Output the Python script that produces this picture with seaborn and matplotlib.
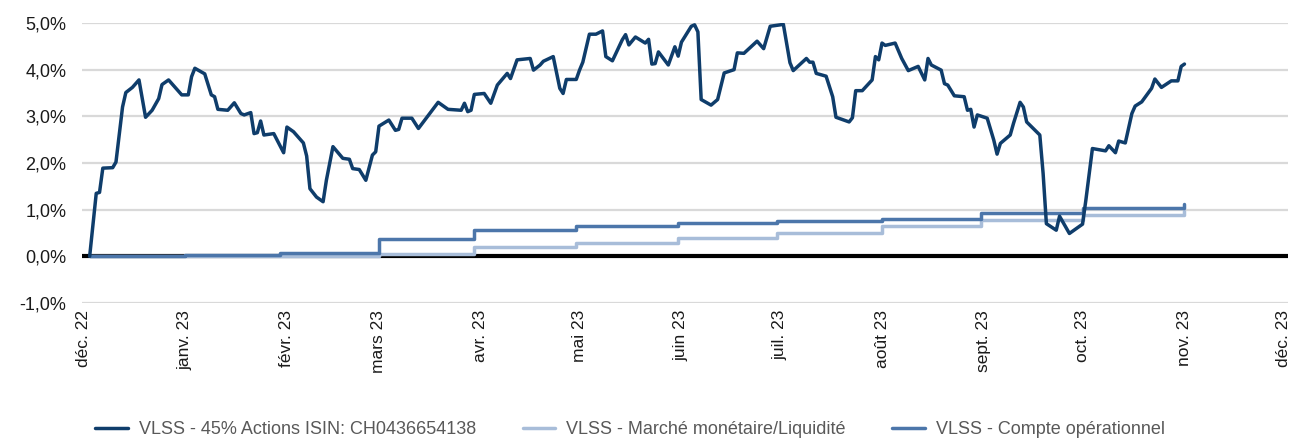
import pandas as pd
import numpy as np
import seaborn as sns
import matplotlib.pyplot as plt
import matplotlib.dates as mdates
from matplotlib.ticker import FuncFormatter, MultipleLocator

# performance cumulée en %
actions_dates = [
    "2022-12-03", "2022-12-05", "2022-12-06", "2022-12-07", "2022-12-10", "2022-12-11",
    "2022-12-13", "2022-12-14", "2022-12-16", "2022-12-18", "2022-12-20", "2022-12-22",
    "2022-12-24", "2022-12-25", "2022-12-27", "2022-12-31", "2023-01-02", "2023-01-03",
    "2023-01-04", "2023-01-07", "2023-01-09", "2023-01-10", "2023-01-11", "2023-01-14",
    "2023-01-16", "2023-01-18", "2023-01-19", "2023-01-21", "2023-01-22", "2023-01-23",
    "2023-01-24", "2023-01-25", "2023-01-28", "2023-01-31", "2023-02-01", "2023-02-03",
    "2023-02-06", "2023-02-07", "2023-02-08", "2023-02-10", "2023-02-12", "2023-02-13",
    "2023-02-15", "2023-02-18", "2023-02-20", "2023-02-21", "2023-02-23", "2023-02-25",
    "2023-02-27", "2023-02-28", "2023-03-01", "2023-03-04", "2023-03-06", "2023-03-07",
    "2023-03-08", "2023-03-11", "2023-03-13", "2023-03-19", "2023-03-22", "2023-03-26",
    "2023-03-27", "2023-03-28", "2023-03-29", "2023-03-30", "2023-04-02", "2023-04-04",
    "2023-04-06", "2023-04-09", "2023-04-10", "2023-04-12", "2023-04-16", "2023-04-17",
    "2023-04-19", "2023-04-20", "2023-04-23", "2023-04-25", "2023-04-26", "2023-04-27",
    "2023-04-30", "2023-05-01", "2023-05-02", "2023-05-04", "2023-05-06", "2023-05-08",
    "2023-05-09", "2023-05-11", "2023-05-14", "2023-05-15", "2023-05-16", "2023-05-18",
    "2023-05-21", "2023-05-22", "2023-05-23", "2023-05-24", "2023-05-25", "2023-05-28",
    "2023-05-30", "2023-05-31", "2023-06-01", "2023-06-04", "2023-06-05", "2023-06-06",
    "2023-06-07", "2023-06-10", "2023-06-12", "2023-06-14", "2023-06-17", "2023-06-18",
    "2023-06-20", "2023-06-24", "2023-06-26", "2023-06-28", "2023-07-02", "2023-07-04",
    "2023-07-05", "2023-07-09", "2023-07-10", "2023-07-11", "2023-07-12", "2023-07-15",
    "2023-07-17", "2023-07-18", "2023-07-22", "2023-07-23", "2023-07-24", "2023-07-26",
    "2023-07-29", "2023-07-30", "2023-07-31", "2023-08-01", "2023-08-02", "2023-08-05",
    "2023-08-07", "2023-08-09", "2023-08-12", "2023-08-14", "2023-08-15", "2023-08-16",
    "2023-08-19", "2023-08-20", "2023-08-21", "2023-08-23", "2023-08-26", "2023-08-27",
    "2023-08-28", "2023-08-29", "2023-08-30", "2023-09-02", "2023-09-04", "2023-09-05",
    "2023-09-06", "2023-09-09", "2023-09-10", "2023-09-12", "2023-09-13", "2023-09-14",
    "2023-09-16", "2023-09-18", "2023-09-19", "2023-09-20", "2023-09-23", "2023-09-24",
    "2023-09-27", "2023-10-01", "2023-10-02", "2023-10-04", "2023-10-08", "2023-10-09",
    "2023-10-11", "2023-10-12", "2023-10-14", "2023-10-16", "2023-10-17", "2023-10-19",
    "2023-10-22", "2023-10-23", "2023-10-25", "2023-10-28", "2023-10-30", "2023-10-31",
    "2023-11-01",
]
actions_values = [
    0.00, 1.35, 1.37, 1.89, 1.90, 2.02,
    3.20, 3.51, 3.62, 3.78, 2.98, 3.13,
    3.38, 3.68, 3.78, 3.46, 3.46, 3.85,
    4.03, 3.91, 3.46, 3.42, 3.15, 3.13,
    3.29, 3.06, 3.03, 3.08, 2.63, 2.65,
    2.90, 2.60, 2.63, 2.22, 2.77, 2.67,
    2.43, 2.15, 1.45, 1.27, 1.17, 1.63,
    2.35, 2.10, 2.08, 1.88, 1.86, 1.63,
    2.17, 2.24, 2.79, 2.92, 2.70, 2.72,
    2.96, 2.96, 2.74, 3.30, 3.15, 3.13,
    3.28, 3.10, 3.13, 3.47, 3.49, 3.28,
    3.67, 3.92, 3.81, 4.21, 4.24, 3.99,
    4.10, 4.18, 4.28, 3.60, 3.49, 3.79,
    3.79, 3.99, 4.16, 4.76, 4.76, 4.83,
    4.28, 4.19, 4.64, 4.75, 4.53, 4.70,
    4.57, 4.65, 4.12, 4.13, 4.38, 4.10,
    4.49, 4.29, 4.59, 4.93, 4.96, 4.81,
    3.36, 3.24, 3.36, 3.93, 4.00, 4.36,
    4.35, 4.61, 4.45, 4.93, 4.97, 4.15,
    3.98, 4.24, 4.16, 4.16, 3.92, 3.86,
    3.42, 2.98, 2.88, 2.97, 3.55, 3.55,
    3.78, 4.28, 4.21, 4.57, 4.52, 4.57,
    4.24, 3.98, 4.07, 3.78, 4.24, 4.10,
    3.99, 3.70, 3.67, 3.44, 3.42, 3.13,
    3.15, 2.77, 3.03, 2.96, 2.49, 2.19,
    2.42, 2.60, 2.85, 3.30, 3.20, 2.88,
    2.74, 2.60, 1.78, 0.70, 0.56, 0.86,
    0.49, 0.69, 1.20, 2.31, 2.26, 2.37,
    2.22, 2.47, 2.43, 3.06, 3.22, 3.31,
    3.60, 3.80, 3.62, 3.76, 3.76, 4.07,
    4.12,
]

liquidite_dates = ["2022-12-03", "2023-03-01", "2023-03-30", "2023-04-30", "2023-05-31",
                   "2023-06-30", "2023-08-01", "2023-08-31", "2023-10-01", "2023-10-31",
                   "2023-11-01"]
liquidite_values = [0.00, 0.06, 0.19, 0.29, 0.40, 0.51, 0.64, 0.77, 0.88, 0.88, 0.98]

compte_dates = ["2022-12-03", "2023-01-01", "2023-01-30", "2023-03-01", "2023-03-30",
                "2023-04-30", "2023-05-31", "2023-06-30", "2023-08-01", "2023-08-31",
                "2023-10-01", "2023-10-31", "2023-11-01"]
compte_values = [0.00, 0.02, 0.07, 0.38, 0.57, 0.64, 0.71, 0.76, 0.81, 0.92, 1.04, 1.04, 1.12]

series_labels = ["VLSS - 45% Actions ISIN: CH0436654138",
                 "VLSS - Marché monétaire/Liquidité",
                 "VLSS - Compte opérationnel"]
mois_fr = ["janv.", "févr.", "mars", "avr.", "mai", "juin", "juil.",
           "août", "sept.", "oct.", "nov.", "déc."]

couleurs = ["#0f3d6b", "#a8bdd9", "#4c76aa"]

sns.set_style("white")
plt.rcParams['font.family'] = ['Liberation Sans', 'DejaVu Sans']

fig = plt.figure(figsize=(12.91, 4.38), dpi=100)
ax = fig.add_axes([0.0633, 0.3082, 0.9344, 0.6393])

df_act = pd.DataFrame({"date": pd.to_datetime(actions_dates), "val": actions_values})
df_liq = pd.DataFrame({"date": pd.to_datetime(liquidite_dates), "val": liquidite_values})
df_cpt = pd.DataFrame({"date": pd.to_datetime(compte_dates), "val": compte_values})

# lignes de grille + ligne zéro
ax.set_axisbelow(True)
ax.yaxis.grid(True, color="#d9d9d9", linewidth=1.6)
ax.axhline(0, color="black", linewidth=3.0, zorder=1.5)

sns.lineplot(data=df_liq, x="date", y="val", ax=ax, color=couleurs[1], linewidth=2.5,
             drawstyle="steps-post", label=series_labels[1], zorder=2)
sns.lineplot(data=df_cpt, x="date", y="val", ax=ax, color=couleurs[2], linewidth=2.5,
             drawstyle="steps-post", label=series_labels[2], zorder=3)
sns.lineplot(data=df_act, x="date", y="val", ax=ax, color=couleurs[0], linewidth=2.5,
             label=series_labels[0], zorder=4)

ax.set_ylim(-1, 5)
ax.yaxis.set_major_locator(MultipleLocator(1))
ax.yaxis.set_major_formatter(FuncFormatter(lambda v, p: f"{v:.1f}%".replace(".", ",")))

ax.set_xlim(pd.Timestamp("2022-11-30 14:00"), pd.Timestamp("2023-12-02 12:00"))
ax.xaxis.set_major_locator(mdates.MonthLocator())
ax.xaxis.set_major_formatter(FuncFormatter(
    lambda v, p: f"{mois_fr[mdates.num2date(v).month - 1]} {mdates.num2date(v).strftime('%y')}"))

ax.tick_params(axis="x", length=0, pad=5, labelsize=12.5, labelrotation=90, colors="#1a1a1a")
ax.tick_params(axis="y", length=0, pad=11, labelsize=13, colors="#1a1a1a")
ax.set_xlabel("")
ax.set_ylabel("")
sns.despine(ax=ax, left=True, bottom=True)

# légende en bas, ordre de l'original
handles, labels = ax.get_legend_handles_labels()
order = [labels.index(l) for l in series_labels]
ax.get_legend().remove()
fig.legend([handles[i] for i in order], [labels[i] for i in order],
           loc="lower center", bbox_to_anchor=(0.488, -0.038), ncol=3, frameon=False,
           fontsize=13, handlelength=1.8, handletextpad=0.6, columnspacing=2.6,
           labelcolor="#595959")

fig.savefig("out.png", dpi=100)
